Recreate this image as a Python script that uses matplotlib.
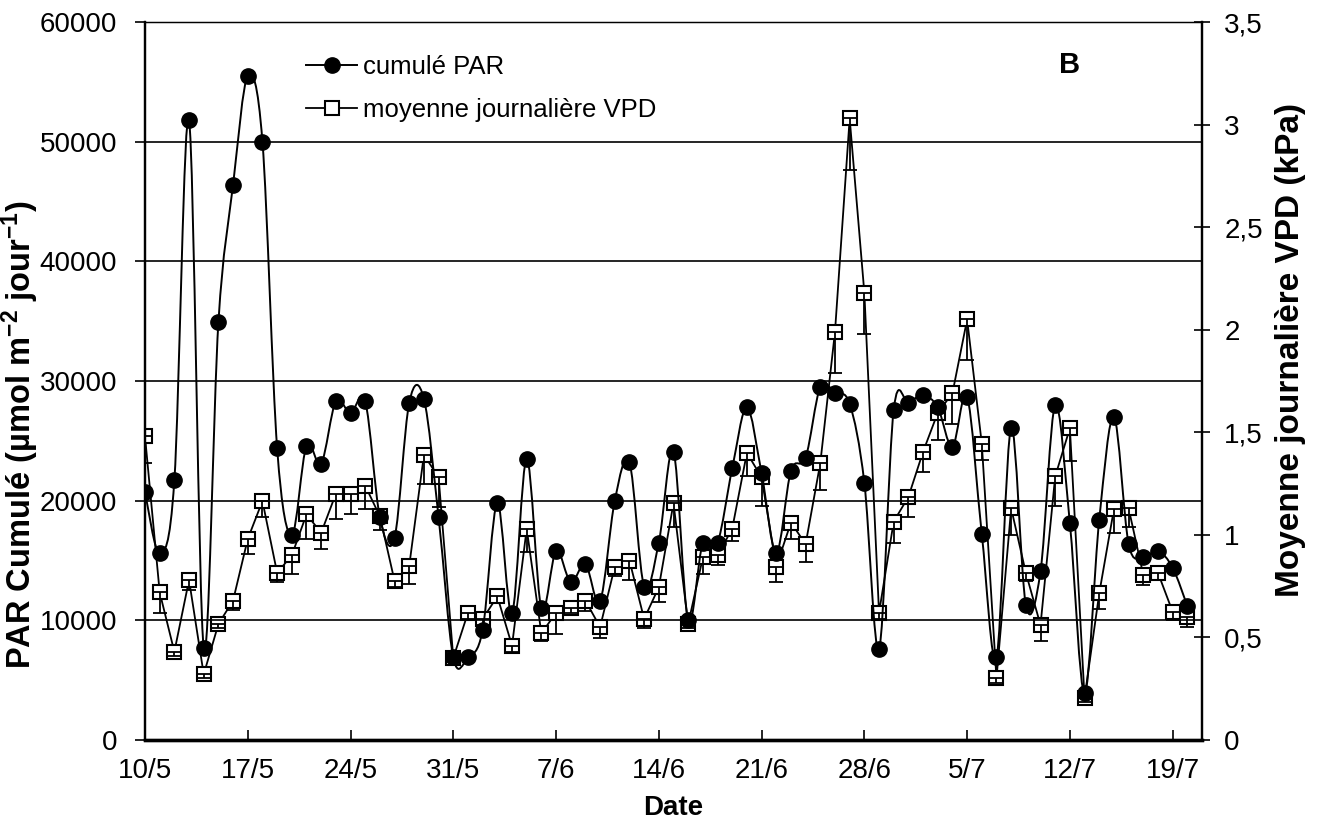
import numpy as np
import matplotlib
matplotlib.use("Agg")
import matplotlib.pyplot as plt
from matplotlib.path import Path
from matplotlib.patches import PathPatch
from matplotlib.lines import Line2D
from matplotlib.ticker import FuncFormatter

plt.rcParams['font.family'] = ['Liberation Sans', 'DejaVu Sans']
plt.rcParams['mathtext.fontset'] = 'custom'
plt.rcParams['mathtext.rm'] = 'Liberation Sans:bold'
plt.rcParams['mathtext.default'] = 'rm'

# cumulated PAR per day, from 10/5 (umol m-2 jour-1)
par = [20700, 15600, 21700, 51800, 7700, 34900, 46400, 55500, 50000, 24400,
       17100, 24600, 23100, 28300, 27300, 28300, 18600, 16900, 28200, 28500,
       18600, 6900, 6900, 9200, 19800, 10600, 23500, 11000, 15800, 13200,
       14700, 11600, 20000, 23200, 12800, 16500, 24100, 10000, 16500, 16500,
       22700, 27800, 22300, 15600, 22500, 23600, 29500, 29000, 28100, 21500,
       7600, 27600, 28200, 28800, 27800, 24500, 28700, 17200, 6900, 26100,
       11300, 14100, 28000, 18100, 3900, 18400, 27000, 16400, 15300, 15800,
       14400, 11200]

# daily mean VPD (kPa) and lower error
vpd = [1.48, 0.72, 0.43, 0.78, 0.32, 0.565, 0.68, 0.98, 1.165, 0.815,
       0.90, 1.10, 1.01, 1.20, 1.20, 1.24, 1.09, 0.775, 0.85, 1.39,
       1.28, 0.40, 0.62, 0.59, 0.70, 0.46, 1.03, 0.52, 0.62, 0.645,
       0.68, 0.55, 0.845, 0.875, 0.59, 0.745, 1.155, 0.565, 0.89, 0.90,
       1.03, 1.40, 1.28, 0.845, 1.06, 0.955, 1.35, 1.99, 3.03, 2.18,
       0.62, 1.065, 1.185, 1.405, 1.595, 1.69, 2.05, 1.445, 0.30, 1.13,
       0.815, 0.56, 1.285, 1.52, 0.205, 0.715, 1.125, 1.13, 0.805, 0.815,
       0.625, 0.60]
vpd_err = [0.13, 0.10, 0.02, 0.05, 0.02, 0.02, 0.045, 0.075, 0.08, 0.045,
           0.09, 0.12, 0.08, 0.125, 0.10, 0.115, 0.065, 0.03, 0.09, 0.14,
           0.145, 0.02, 0.03, 0.03, 0.03, 0.03, 0.115, 0.035, 0.105, 0.025,
           0.05, 0.055, 0.045, 0.095, 0.045, 0.07, 0.115, 0.02, 0.08, 0.045,
           0.06, 0.115, 0.14, 0.075, 0.08, 0.085, 0.13, 0.2, 0.25, 0.2,
           0.03, 0.105, 0.10, 0.10, 0.135, 0.15, 0.2, 0.08, 0.02, 0.13,
           0.04, 0.075, 0.145, 0.16, 0.02, 0.075, 0.115, 0.09, 0.05, 0.035,
           0.04, 0.05]

tick_days = [0, 7, 14, 21, 28, 35, 42, 49, 56, 63, 70]
tick_labels = ['10/5', '17/5', '24/5', '31/5', '7/6', '14/6', '21/6', '28/6',
               '5/7', '12/7', '19/7']

days = np.arange(len(par))


def smooth_path(x, y):
    # excel-like smoothed line: cubic bezier through the points
    pts = np.column_stack([x, y]).astype(float)
    ext = np.vstack([pts[0], pts, pts[-1]])
    verts = [pts[0]]
    codes = [Path.MOVETO]
    for i in range(len(pts) - 1):
        p0, p1, p2, p3 = ext[i], ext[i + 1], ext[i + 2], ext[i + 3]
        verts += [p1 + (p2 - p0) / 6, p2 - (p3 - p1) / 6, p2]
        codes += [Path.CURVE4] * 3
    return Path(verts, codes)


fig = plt.figure(figsize=(13.17, 8.26), dpi=100)
ax = fig.add_axes([145 / 1317, 1 - 740 / 826, 1057 / 1317, 718 / 826])
ax2 = ax.twinx()

# VPD on right axis
ax2.errorbar(days, vpd, yerr=[vpd_err, np.zeros(len(vpd))], fmt='none',
             ecolor='black', elinewidth=1.3, capsize=5, capthick=1.3, zorder=3)
ax2.plot(days, vpd, color='black', lw=1.3, marker='s', ms=10,
         mfc='white', mec='black', mew=1.5, zorder=2)
ax2.set_ylim(0, 3.5)
ax2.set_yticks(np.arange(0, 3.51, 0.5))
ax2.yaxis.set_major_formatter(FuncFormatter(
    lambda v, p: ('%g' % v).replace('.', ',')))

# PAR on left axis, drawn above
ax.set_zorder(ax2.get_zorder() + 1)
ax.patch.set_visible(False)
ax.add_patch(PathPatch(smooth_path(days, par), fill=False, color='black',
                       lw=1.4, zorder=3))
ax.plot(days, par, ls='none', marker='o', ms=11, color='black', zorder=4)
ax.set_ylim(0, 60000)
ax.set_xlim(0, 72)
ax.set_yticks(np.arange(0, 60001, 10000))
ax.set_xticks(tick_days)
ax.set_xticklabels(tick_labels)

for yv in range(10000, 60000, 10000):
    ax.axhline(yv, color='black', lw=1.2, zorder=1)

ax.tick_params(axis='y', direction='out', length=7, width=1.2,
               labelsize=20, pad=13)
ax.tick_params(axis='x', direction='in', length=7, width=1.2,
               labelsize=20, pad=13)
ax2.tick_params(axis='y', direction='inout', length=12, width=1.2,
                labelsize=20, pad=10)

for a in (ax, ax2):
    a.spines['left'].set_linewidth(1.6)
    a.spines['right'].set_linewidth(1.6)
    a.spines['bottom'].set_linewidth(2.4)
    a.spines['top'].set_linewidth(0.9)

# legend
h1 = Line2D([], [], color='black', lw=1.4, marker='o', ms=11)
h2 = Line2D([], [], color='black', lw=1.3, marker='s', ms=10,
            mfc='white', mec='black', mew=1.5)
ax.legend([h1, h2], ['cumulé PAR', 'moyenne journalière VPD'],
          loc='upper left', bbox_to_anchor=(0.1523, 0.954), frameon=False,
          borderpad=0, borderaxespad=0, fontsize=18.5, handlelength=2.0,
          handletextpad=0.2, labelspacing=0.75)

ax.text(0.875, 0.94, 'B', transform=ax.transAxes, fontsize=21,
        fontweight='bold', ha='center', va='center')

fig.text(20 / 1317, 1 - 435 / 826, 'PAR Cumulé (µmol m$^{-2}$ jour$^{-1}$)',
         rotation=90, ha='center', va='center', fontsize=23.5, fontweight='bold')
fig.text(1290 / 1317, 1 - 350 / 826, 'Moyenne journalière VPD (kPa)',
         rotation=90, ha='center', va='center', fontsize=24, fontweight='bold')
fig.text(673 / 1317, 1 - 808 / 826, 'Date', ha='center', va='center',
         fontsize=20, fontweight='bold')

fig.savefig('out.png', dpi=100)
